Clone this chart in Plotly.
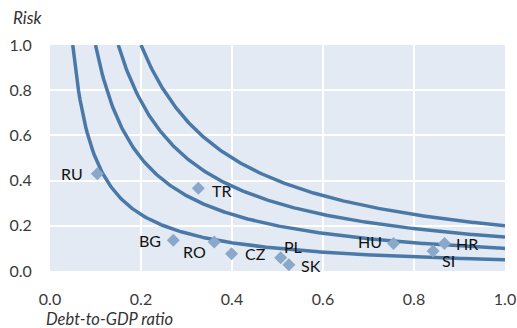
import numpy as np
import plotly.graph_objects as go

# Iso-risk curve levels (risk * debt = level)
curve_levels = [0.05, 0.10, 0.15, 0.20]

countries = ["RU", "TR", "BG", "RO", "CZ", "PL", "SK", "HU", "SI", "HR"]
debt_ratio = [0.104, 0.326, 0.271, 0.361, 0.399, 0.507, 0.525, 0.755, 0.842, 0.867]
risk = [0.430, 0.366, 0.136, 0.128, 0.076, 0.059, 0.028, 0.122, 0.088, 0.122]

# label placement (style only): anchor side and pixel shifts
label_anchor = ["right", "left", "right", "right", "left", "left", "left", "right", "left", "left"]
label_dx = [-12, 12, -10, -6, 11, 1, 10, -10, 7, 10]
label_dy = [0, -2, 0, -9, 0, 11, -1, 2, -9, 0]

x_ticks = [0.0, 0.2, 0.4, 0.6, 0.8, 1.0]
y_ticks = [0.0, 0.2, 0.4, 0.6, 0.8, 1.0]

FONT = "Lato"
LINE = "#4a79a8"
MARK = "#8aa8c9"

fig = go.Figure()
for c in curve_levels:
    xs = np.linspace(c, 1.0, 300)
    fig.add_trace(go.Scatter(x=xs, y=c / xs, mode="lines",
                             line=dict(color=LINE, width=3.5),
                             hoverinfo="skip", showlegend=False))

fig.add_trace(go.Scatter(x=debt_ratio, y=risk, mode="markers",
                         marker=dict(symbol="diamond", size=10, color=MARK),
                         showlegend=False, cliponaxis=False))

annotations = []
for name, x, y, anc, dx, dy in zip(countries, debt_ratio, risk, label_anchor, label_dx, label_dy):
    annotations.append(dict(text=name, x=x, y=y, xref="x", yref="y", showarrow=False,
                            xanchor=anc, yanchor="middle", xshift=dx, yshift=dy,
                            font=dict(family=FONT, size=16, color="#111111")))

annotations += [
    dict(text="<i>Risk</i>", xref="paper", yref="paper", x=-0.086, y=1.0,
         yshift=28, xanchor="left", yanchor="middle", showarrow=False,
         font=dict(family=FONT, size=17, color="#333333")),
    dict(text="<i>Debt-to-GDP ratio</i>", xref="paper", yref="paper", x=-0.013, y=0.0,
         yshift=-48, xanchor="left", yanchor="middle", showarrow=False,
         font=dict(family=FONT, size=16.5, color="#333333")),
]

fig.update_layout(
    width=517, height=328,
    margin=dict(l=50, r=12, t=45, b=57),
    paper_bgcolor="white", plot_bgcolor="#e3eaf3",
    font=dict(family=FONT, size=15, color="#333333"),
    xaxis=dict(range=[0, 1], tickvals=x_ticks, ticktext=[f"{v:.1f}" for v in x_ticks],
               showgrid=True, gridcolor="white", gridwidth=1.5, zeroline=False,
               ticks="outside", ticklen=0, ticklabelstandoff=14, automargin=False,
               tickfont=dict(family=FONT, size=16, color="#3a3a3a")),
    yaxis=dict(range=[0, 1], tickvals=y_ticks, ticktext=[f"{v:.1f}" for v in y_ticks],
               showgrid=True, gridcolor="white", gridwidth=1.5, zeroline=False,
               ticks="outside", ticklen=0, ticklabelstandoff=14, automargin=False,
               tickfont=dict(family=FONT, size=16, color="#3a3a3a")),
    annotations=annotations,
)

fig.write_html("out.html", config={"displayModeBar": False})

# remove default browser body margin so the figure sits at the page origin
with open("out.html", "r", encoding="utf-8") as f:
    html = f.read()
html = html.replace("<head>", "<head><style>html,body{margin:0;padding:0;}</style>", 1)
with open("out.html", "w", encoding="utf-8") as f:
    f.write(html)
